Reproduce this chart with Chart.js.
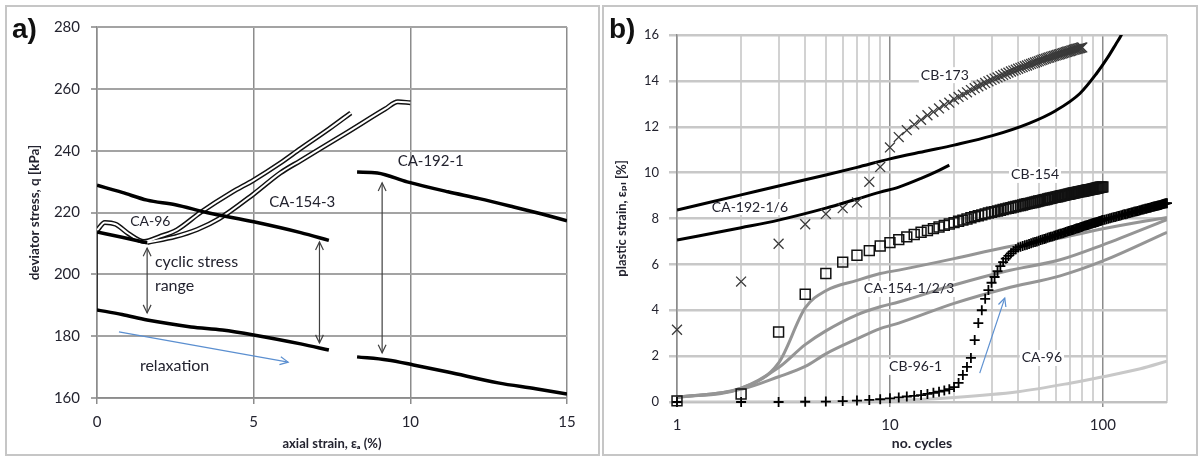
<!DOCTYPE html>
<html>
<head>
<meta charset="utf-8">
<script src="https://cdn.jsdelivr.net/npm/chart.js@4.4.1/dist/chart.umd.min.js"></script>
<style>
  html, body { margin: 0; padding: 0; background: #fff; }
  body { width: 1198px; height: 457px; position: relative; overflow: hidden; }
  canvas { position: absolute; top: 0; }
  #chartA { left: 0; }
  #chartB { left: 600px; }
  .frame { position: absolute; border: 2px solid #c6c6c6; box-sizing: border-box; }
</style>
</head>
<body>
<div class="frame" style="left:5px;top:5px;width:595px;height:451px"></div>
<div class="frame" style="left:602px;top:5px;width:596px;height:451px"></div>
<canvas id="chartA" width="600" height="457"></canvas>
<canvas id="chartB" width="598" height="457"></canvas>
<script>
// ---- panel a) deviator stress vs axial strain ----
const xTicksA = [0, 5, 10, 15];
const yTicksA = [160, 180, 200, 220, 240, 260, 280];

const strainMaxCA154 = [0, 0.8, 1.6, 2.5, 3.5, 5, 6.5, 7.4];
const qMaxCA154 = [228.8, 226.5, 224, 222.5, 220, 217, 213.5, 211];
const strainMinCA154 = [0, 0.8, 1.6, 3, 4, 5, 6.5, 7.4];
const qMinCA154 = [188.5, 187, 185.2, 183, 182, 180.4, 177.5, 175.5];
const strainMaxCA96 = [0, 0.8, 1.6];
const qMaxCA96 = [213.7, 212, 210.2];
const strainLoadCA96 = [0, 0];
const qLoadCA96 = [188.5, 213.7];
const strainMonoA = [0, 0.25, 0.6, 1.0, 1.5, 2.0, 2.55, 3.3, 4.3, 5, 5.85, 6.5, 7.4, 8.1];
const qMonoA = [214.2, 216.8, 216.2, 213.2, 210.6, 212.2, 214.4, 220, 226.5, 230.5, 236, 240.7, 247, 252.2];
const strainMonoB = [1.6, 2.5, 3.2, 3.9, 5, 5.85, 6.5, 8, 9.2, 9.6, 10.0];
const qMonoB = [210.3, 212.2, 214.5, 218, 226, 232.8, 236.8, 246, 253.5, 255.8, 255.5];
const strainMaxCA192 = [8.3, 8.95, 9.9, 11.2, 12.2, 13.3, 14.2, 15];
const qMaxCA192 = [233.1, 232.8, 229.9, 226.7, 224.5, 221.8, 219.5, 217.3];
const strainMinCA192 = [8.3, 9.27, 10.1, 11.2, 12.8, 14, 15];
const qMinCA192 = [173.3, 172.3, 170.7, 168.4, 164.9, 163, 161.3];

const labelsA = [
  { text: 'CA-96', x: 1.7, y: 217, size: 14 },
  { text: 'CA-154-3', x: 6.55, y: 223.2, size: 15 },
  { text: 'CA-192-1', x: 10.65, y: 236.7, size: 15 },
  { text: 'cyclic stress', x: 1.85, y: 204, size: 16, align: 'left' },
  { text: 'range', x: 1.85, y: 196.2, size: 16, align: 'left' },
  { text: 'relaxation', x: 1.37, y: 170.4, size: 16, align: 'left' }
];
const arrowsA = [
  { x1: 1.6, y1: 187.5, x2: 1.6, y2: 208.5, both: true, color: '#404040' },
  { x1: 7.1, y1: 177.8, x2: 7.1, y2: 210.5, both: true, color: '#404040' },
  { x1: 9.1, y1: 174.6, x2: 9.1, y2: 229.6, both: true, color: '#404040' },
  { x1: 0.7, y1: 181.4, x2: 6.1, y2: 171.6, both: false, color: '#5b8fd0' }
];

// ---- panel b) plastic strain vs number of cycles ----
const xTicksB = [1, 2, 3, 4, 5, 6, 7, 8, 9, 10, 20, 30, 40, 50, 60, 70, 80, 90, 100, 200];
const xLabelsB = [1, 10, 100];
const yTicksB = [0, 2, 4, 6, 8, 10, 12, 14, 16];

const cyclesCB173 = [1, 2, 3, 4, 5, 6, 7, 8, 9, 10, 11, 12, 13, 14, 15, 16, 17, 18, 19, 20,
  21, 22, 23, 24, 25, 26, 27, 28, 29, 30, 31, 32, 33, 34, 35, 36, 37, 38, 39, 40,
  41, 42, 43, 44, 45, 46, 47, 48, 49, 50, 51, 52, 53, 54, 55, 56, 57, 58, 59, 60,
  61, 62, 63, 64, 65, 66, 67, 68, 69, 70, 71, 72, 73, 74, 75, 76, 77, 78, 79, 80];
const strainCB173 = [3.15, 5.25, 6.9, 7.75, 8.2, 8.45, 8.7, 9.6, 10.25, 11.1, 11.55, 11.85, 12.1, 12.3, 12.5, 12.65, 12.8, 12.95, 13.05, 13.2,
  13.3, 13.4, 13.5, 13.6, 13.68, 13.76, 13.84, 13.91, 13.98, 14.04, 14.1, 14.15, 14.21, 14.26, 14.31, 14.36, 14.41, 14.45, 14.49, 14.53,
  14.57, 14.6, 14.64, 14.67, 14.71, 14.74, 14.77, 14.8, 14.83, 14.86, 14.89, 14.92, 14.95, 14.97, 15.0, 15.02, 15.05, 15.07, 15.09, 15.11,
  15.13, 15.15, 15.17, 15.19, 15.21, 15.23, 15.25, 15.27, 15.29, 15.3, 15.32, 15.34, 15.36, 15.37, 15.39, 15.4, 15.42, 15.43, 15.45, 15.46];

const cyclesCB154 = [1, 2, 3, 4, 5, 6, 7, 8, 9, 10, 11, 12, 13, 14, 15, 16, 17, 18, 19, 20,
  21, 22, 23, 24, 25, 26, 27, 28, 29, 30, 31, 32, 33, 34, 35, 36, 37, 38, 39, 40,
  41, 42, 43, 44, 45, 46, 47, 48, 49, 50, 51, 52, 53, 54, 55, 56, 57, 58, 59, 60,
  61, 62, 63, 64, 65, 66, 67, 68, 69, 70, 71, 72, 73, 74, 75, 76, 77, 78, 79, 80,
  81, 82, 83, 84, 85, 86, 87, 88, 89, 90, 91, 92, 93, 94, 95, 96, 97, 98, 99, 100];
const strainCB154 = [0.05, 0.35, 3.05, 4.7, 5.6, 6.1, 6.4, 6.6, 6.8, 6.95, 7.08, 7.2, 7.3, 7.4, 7.48, 7.56, 7.63, 7.7, 7.76, 7.82,
  7.88, 7.93, 7.98, 8.03, 8.08, 8.12, 8.16, 8.2, 8.24, 8.27, 8.3, 8.33, 8.36, 8.39, 8.42, 8.45, 8.47, 8.5, 8.52, 8.55,
  8.57, 8.59, 8.62, 8.64, 8.66, 8.68, 8.7, 8.72, 8.74, 8.76, 8.78, 8.8, 8.82, 8.83, 8.85, 8.87, 8.88, 8.9, 8.92, 8.93,
  8.95, 8.96, 8.98, 8.99, 9.01, 9.02, 9.03, 9.05, 9.06, 9.07, 9.09, 9.1, 9.11, 9.12, 9.14, 9.15, 9.16, 9.17, 9.18, 9.19,
  9.2, 9.21, 9.22, 9.23, 9.24, 9.25, 9.26, 9.27, 9.28, 9.29, 9.3, 9.31, 9.32, 9.33, 9.34, 9.35, 9.36, 9.37, 9.37, 9.38];

const cyclesCB96 = [1, 2, 3, 4, 5, 6, 7, 8, 9, 10, 11, 12, 13, 14, 15, 16, 17, 18, 19, 20,
  21, 22, 23, 24, 25, 26, 27, 28, 29, 30, 31, 32, 33, 34, 35, 36, 37, 38, 39, 40,
  41, 42, 43, 44, 45, 46, 47, 48, 49, 50, 51, 52, 53, 54, 55, 56, 57, 58, 59, 60,
  61, 62, 63, 64, 65, 66, 67, 68, 69, 70, 71, 72, 73, 74, 75, 76, 77, 78, 79, 80,
  81, 82, 83, 84, 85, 86, 87, 88, 89, 90, 91, 92, 93, 94, 95, 96, 97, 98, 99, 100,
  102, 104, 106, 108, 110, 112, 114, 116, 118, 120, 122, 124, 126, 128, 130, 132, 134, 136, 138, 140,
  142, 144, 146, 148, 150, 152, 154, 156, 158, 160, 162, 164, 166, 168, 170, 172, 174, 176, 178, 180,
  182, 184, 186, 188, 190, 192, 194, 196, 198, 200];
const strainCB96 = [0, 0, 0, 0.01, 0.02, 0.04, 0.06, 0.09, 0.12, 0.16, 0.2, 0.24, 0.27, 0.3, 0.35, 0.4, 0.45, 0.5, 0.56, 0.65,
  0.83, 1.18, 1.53, 1.92, 2.7, 3.44, 4.0, 4.5, 4.88, 5.2, 5.45, 5.7, 5.92, 6.1, 6.25, 6.37, 6.48, 6.58, 6.66, 6.74,
  6.77, 6.8, 6.83, 6.86, 6.89, 6.92, 6.95, 6.98, 7.0, 7.03, 7.06, 7.08, 7.11, 7.13, 7.16, 7.18, 7.2, 7.22, 7.25, 7.27,
  7.29, 7.31, 7.33, 7.35, 7.37, 7.39, 7.41, 7.43, 7.45, 7.47, 7.49, 7.5, 7.52, 7.54, 7.56, 7.58, 7.59, 7.61, 7.63, 7.64,
  7.66, 7.68, 7.69, 7.71, 7.72, 7.74, 7.75, 7.77, 7.78, 7.8, 7.81, 7.82, 7.84, 7.85, 7.86, 7.88, 7.89, 7.9, 7.92, 7.93,
  7.95, 7.97, 7.99, 8.01, 8.03, 8.05, 8.07, 8.09, 8.11, 8.12, 8.14, 8.16, 8.18, 8.19, 8.21, 8.23, 8.24, 8.26, 8.27, 8.29,
  8.3, 8.32, 8.33, 8.35, 8.36, 8.38, 8.39, 8.4, 8.42, 8.43, 8.45, 8.46, 8.47, 8.48, 8.5, 8.51, 8.52, 8.53, 8.55, 8.56,
  8.57, 8.58, 8.59, 8.6, 8.62, 8.63, 8.64, 8.65, 8.66, 8.67];

const cyclesCA192a = [1, 2, 3, 5, 7, 10, 15, 20, 30, 45, 60, 78, 93, 105, 115, 122, 126];
const strainCA192a = [8.37, 9.03, 9.42, 9.9, 10.23, 10.6, 10.95, 11.2, 11.6, 12.15, 12.7, 13.45, 14.3, 15.0, 15.6, 16.0, 16.3];
const cyclesCA192b = [1, 2, 3, 5, 7, 9, 11, 14, 17, 19];
const strainCA192b = [7.06, 7.6, 7.93, 8.45, 8.85, 9.15, 9.37, 9.75, 10.1, 10.33];

const cyclesCA154 = [1, 2, 3, 4, 5, 7, 9, 11, 20, 35, 63, 100, 200];
const strainCA154a = [0.2, 0.6, 1.7, 4.1, 4.85, 5.3, 5.6, 5.75, 6.25, 6.75, 7.15, 7.55, 8.05];
const strainCA154b = [0.2, 0.6, 1.5, 2.5, 3.1, 3.8, 4.15, 4.36, 5.1, 5.7, 6.2, 6.85, 7.95];
const strainCA154c = [0.2, 0.55, 1.1, 1.55, 2.1, 2.75, 3.2, 3.44, 4.3, 4.95, 5.5, 6.15, 7.4];

const cyclesCA96 = [1, 5, 10, 20, 40, 70, 100, 150, 200];
const strainCA96 = [0, 0.01, 0.06, 0.2, 0.45, 0.82, 1.1, 1.45, 1.78];

const labelsB = [
  { text: 'CB-173', x: 18.1, y: 14.25, size: 14 },
  { text: 'CB-154', x: 48, y: 9.9, size: 14 },
  { text: 'CA-192-1/6', x: 2.2, y: 8.5, size: 14 },
  { text: 'CA-154-1/2/3', x: 12.3, y: 4.93, size: 14 },
  { text: 'CB-96-1', x: 13.2, y: 1.53, size: 14 },
  { text: 'CA-96', x: 51.7, y: 1.92, size: 14 }
];
const arrowsB = [
  { x1: 26.4, y1: 1.26, x2: 34.6, y2: 4.53, both: false, color: '#5b8fd0' }
];

const TEXT = '#23232f';
const FONT = 'Lato, "DejaVu Sans", sans-serif';

const pts = (xs, ys) => xs.map((v, i) => ({ x: v, y: ys[i] }));

function head(ctx, fx, fy, tx, ty) {
  const a = Math.atan2(ty - fy, tx - fx);
  const L = 9, s = 0.45;
  ctx.beginPath();
  ctx.moveTo(tx - L * Math.cos(a - s), ty - L * Math.sin(a - s));
  ctx.lineTo(tx, ty);
  ctx.lineTo(tx - L * Math.cos(a + s), ty - L * Math.sin(a + s));
  ctx.stroke();
}

const notes = {
  id: 'notes',
  beforeDatasetsDraw(chart, args, opts) {
    if (!opts.boxes) return;
    const { ctx, scales: { x, y } } = chart;
    ctx.save();
    ctx.fillStyle = '#fff';
    opts.labels.forEach(l => {
      ctx.font = l.size + 'px ' + FONT;
      const w = ctx.measureText(l.text).width;
      const px = x.getPixelForValue(l.x), py = y.getPixelForValue(l.y);
      ctx.fillRect(px - w / 2 - 2, py - 8, w + 4, 16);
    });
    ctx.restore();
  },
  afterDraw(chart, args, opts) {
    const { ctx, scales: { x, y } } = chart;
    ctx.save();
    opts.arrows.forEach(a => {
      const x1 = x.getPixelForValue(a.x1), y1 = y.getPixelForValue(a.y1);
      const x2 = x.getPixelForValue(a.x2), y2 = y.getPixelForValue(a.y2);
      ctx.strokeStyle = a.color;
      ctx.lineWidth = 1.2;
      ctx.beginPath();
      ctx.moveTo(x1, y1);
      ctx.lineTo(x2, y2);
      ctx.stroke();
      head(ctx, x1, y1, x2, y2);
      if (a.both) head(ctx, x2, y2, x1, y1);
    });
    ctx.fillStyle = TEXT;
    ctx.textBaseline = 'middle';
    opts.labels.forEach(l => {
      ctx.font = l.size + 'px ' + FONT;
      ctx.textAlign = l.align || 'center';
      ctx.fillText(l.text, x.getPixelForValue(l.x), y.getPixelForValue(l.y));
    });
    ctx.font = 'bold 28px "Liberation Sans", Arial, sans-serif';
    ctx.textAlign = 'left';
    ctx.fillStyle = '#111';
    ctx.fillText(opts.tag, opts.tagX, 30);
    ctx.restore();
  }
};
Chart.register(notes);

const line = (data, color, width, order) => ({
  data, showLine: true, borderColor: color, borderWidth: width, pointRadius: 0,
  fill: false, order, cubicInterpolationMode: 'monotone'
});

new Chart(document.getElementById('chartA'), {
  type: 'scatter',
  data: {
    datasets: [
      line(pts(strainLoadCA96, qLoadCA96), '#111', 1.5, 5),
      line(pts(strainMonoA, qMonoA), '#111', 5, 4),
      line(pts(strainMonoA, qMonoA), '#fff', 2, 3),
      line(pts(strainMonoB, qMonoB), '#111', 5, 4),
      line(pts(strainMonoB, qMonoB), '#fff', 2, 3),
      line(pts(strainMaxCA96, qMaxCA96), '#000', 3.5, 1),
      line(pts(strainMaxCA154, qMaxCA154), '#000', 3.5, 1),
      line(pts(strainMinCA154, qMinCA154), '#000', 3.5, 1),
      line(pts(strainMaxCA192, qMaxCA192), '#000', 3.5, 1),
      line(pts(strainMinCA192, qMinCA192), '#000', 3.5, 1)
    ]
  },
  options: {
    responsive: false,
    animation: false,
    layout: { padding: { left: 0, right: 33, top: 27, bottom: 0 } },
    plugins: {
      legend: { display: false },
      tooltip: { enabled: false },
      notes: { labels: labelsA, arrows: arrowsA, boxes: false, tag: 'a)', tagX: 12 }
    },
    scales: {
      x: {
        type: 'linear', min: 0, max: 15,
        afterBuildTicks: s => { s.ticks = xTicksA.map(v => ({ value: v })); },
        afterFit: s => { s.height = 59; },
        ticks: { color: TEXT, font: { family: FONT, size: 15 }, padding: 9, maxRotation: 0 },
        grid: { color: '#8c8c8c', lineWidth: 1.5, tickLength: 6 },
        border: { color: '#8c8c8c', width: 1.5 },
        title: { display: true, text: 'axial strain, εₐ (%)', color: TEXT,
                 font: { family: FONT, size: 13, weight: 'bold' }, padding: { top: 0, bottom: 5 } }
      },
      y: {
        type: 'linear', min: 160, max: 280,
        afterBuildTicks: s => { s.ticks = yTicksA.map(v => ({ value: v })); },
        afterFit: s => { s.width = 97; },
        ticks: { color: TEXT, font: { family: FONT, size: 15 }, padding: 11 },
        grid: { color: '#a3a3a3', lineWidth: 2, tickLength: 6 },
        border: { color: '#8c8c8c', width: 1.5 },
        title: { display: true, text: 'deviator stress, q [kPa]', color: TEXT,
                 font: { family: FONT, size: 13.5, weight: 'bold' }, padding: { top: 27, bottom: 0 } }
      }
    }
  }
});

const marks = (data, style, radius, color, width, order) => ({
  data, pointStyle: style, pointRadius: radius, borderColor: color, borderWidth: width,
  backgroundColor: 'rgba(0,0,0,0)', showLine: false, order, clip: false
});

new Chart(document.getElementById('chartB'), {
  type: 'scatter',
  data: {
    datasets: [
      line(pts(cyclesCA96, strainCA96), '#c8c8c8', 3, 6),
      line(pts(cyclesCA154, strainCA154a), '#959595', 3, 5),
      line(pts(cyclesCA154, strainCA154b), '#959595', 3, 5),
      line(pts(cyclesCA154, strainCA154c), '#959595', 3, 5),
      line(pts(cyclesCA192a, strainCA192a), '#000', 3, 4),
      line(pts(cyclesCA192b, strainCA192b), '#000', 3, 4),
      marks(pts(cyclesCB173, strainCB173), 'crossRot', 7, '#3a3a3a', 1.3, 1),
      marks(pts(cyclesCB154, strainCB154), 'rect', 7, '#111', 1.5, 1),
      marks(pts(cyclesCB96, strainCB96), 'cross', 5, '#000', 1.8, 1)
    ]
  },
  options: {
    responsive: false,
    animation: false,
    layout: { padding: { left: 0, right: 31, top: 35, bottom: 0 } },
    plugins: {
      legend: { display: false },
      tooltip: { enabled: false },
      notes: { labels: labelsB, arrows: arrowsB, boxes: true, tag: 'b)', tagX: 9 }
    },
    scales: {
      x: {
        type: 'logarithmic', min: 1, max: 200,
        afterBuildTicks: s => { s.ticks = xTicksB.map(v => ({ value: v })); },
        afterFit: s => { s.height = 55; },
        ticks: { color: TEXT, font: { family: FONT, size: 15 }, padding: 9, autoSkip: false, maxRotation: 0,
                 callback: v => xLabelsB.includes(v) ? String(v) : '' },
        grid: {
          color: c => xLabelsB.includes(c.tick.value) ? '#8c8c8c' : '#d2d2d2',
          lineWidth: c => xLabelsB.includes(c.tick.value) ? 1.5 : 2,
          tickColor: c => xLabelsB.includes(c.tick.value) ? '#8c8c8c' : 'rgba(0,0,0,0)',
          tickLength: 5
        },
        border: { color: '#c0c0c0', width: 2 },
        title: { display: true, text: 'no. cycles', color: TEXT,
                 font: { family: FONT, size: 14, weight: 'bold' }, padding: { top: 0, bottom: 5 } }
      },
      y: {
        type: 'linear', min: 0, max: 16,
        afterBuildTicks: s => { s.ticks = yTicksB.map(v => ({ value: v })); },
        afterFit: s => { s.width = 77; },
        ticks: { color: TEXT, font: { family: FONT, size: 13 }, padding: 10 },
        grid: { color: '#c8c8c8', lineWidth: 2.5, tickLength: 8 },
        border: { color: '#8c8c8c', width: 1.5 },
        title: { display: true, text: 'plastic strain, εₚₗ [%]', color: TEXT,
                 font: { family: FONT, size: 13, weight: 'bold' }, padding: { top: 14, bottom: 0 } }
      }
    }
  }
});
</script>
</body>
</html>
